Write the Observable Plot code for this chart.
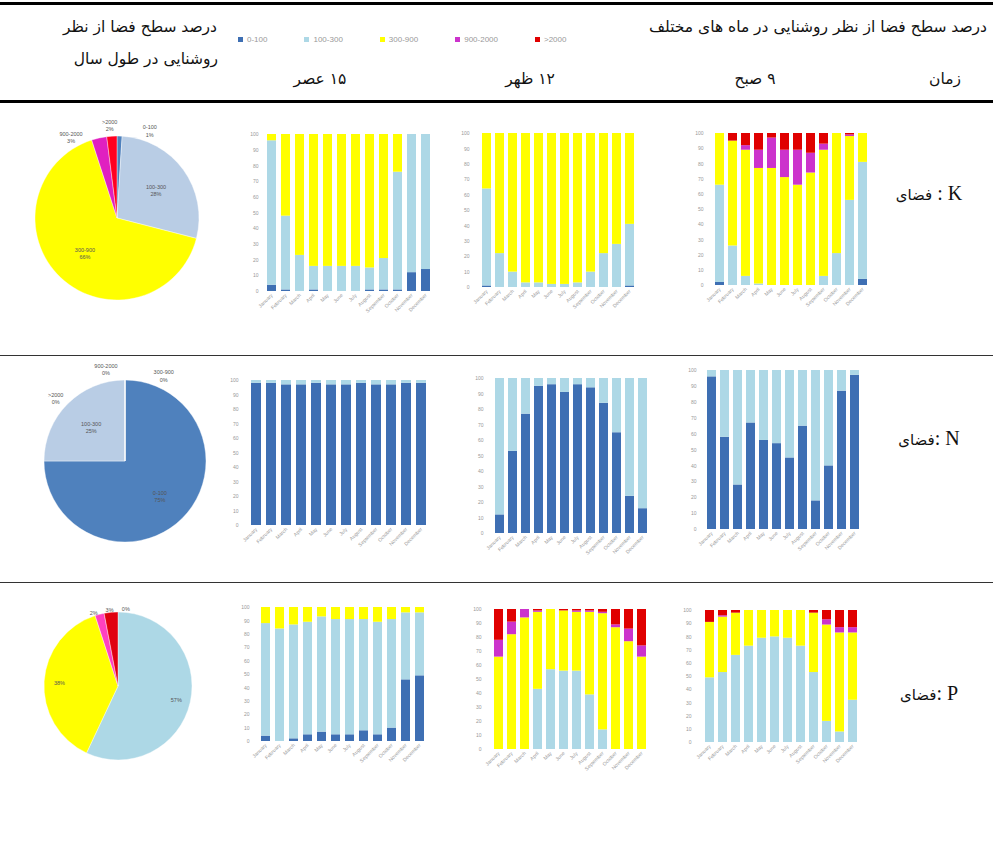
<!DOCTYPE html>
<html>
<head>
<meta charset="utf-8">
<script src="https://cdn.jsdelivr.net/npm/d3@7"></script>
<script src="https://cdn.jsdelivr.net/npm/@observablehq/plot@0.6"></script>
<style>
  body { margin: 0; background: #fff; }
  #page { position: relative; width: 993px; height: 862px; background: #fff; overflow: hidden; font-family: "DejaVu Sans", sans-serif; }
  .abs { position: absolute; }
  .fa { font-family: "DejaVu Sans", sans-serif; font-size: 15.5px; color: #111; white-space: nowrap; }
  .hl { position: absolute; left: 0; width: 993px; background: #000; }
  .rowlab { font-family: "Liberation Serif", "DejaVu Sans", serif; font-size: 20px; color: #111; white-space: nowrap; }
  .rowlab .p { font-family: "DejaVu Sans", sans-serif; font-size: 15px; }
  .lg-swatches { font-size: 8px !important; color: #999 !important; font-family: "Liberation Sans", sans-serif !important; }
  .lg-swatch { margin-right: 37px !important; }
</style>
</head>
<body>
<div id="page">
  <div class="hl" style="top:2px;height:3px"></div>
  <div class="hl" style="top:100px;height:3px"></div>
  <div class="hl" style="top:355px;height:1px;background:#333"></div>
  <div class="hl" style="top:582px;height:1px;background:#333"></div>

  <div class="abs fa" dir="rtl" style="right:6px;top:18px">درصد سطح فضا از نظر روشنایی در ماه های مختلف</div>
  <div class="abs fa" dir="rtl" style="left:30px;width:187px;text-align:right;top:18px">درصد سطح فضا از نظر</div>
  <div class="abs fa" dir="rtl" style="left:30px;width:188px;text-align:right;top:50px">روشنایی در طول سال</div>
  <div class="abs fa" dir="rtl" style="left:905px;width:80px;text-align:center;top:70px">زمان</div>
  <div class="abs fa" dir="rtl" style="left:705px;width:100px;text-align:center;top:70px">۹ صبح</div>
  <div class="abs fa" dir="rtl" style="left:480px;width:100px;text-align:center;top:70px">۱۲ ظهر</div>
  <div class="abs fa" dir="rtl" style="left:270px;width:100px;text-align:center;top:70px">۱۵ عصر</div>

  <div class="abs rowlab" dir="ltr" style="left:879px;width:100px;text-align:center;top:182px"><span class="p">فضای</span> : K</div>
  <div class="abs rowlab" dir="ltr" style="left:879px;width:100px;text-align:center;top:427px"><span class="p">فضای</span>: N</div>
  <div class="abs rowlab" dir="ltr" style="left:879px;width:100px;text-align:center;top:682px"><span class="p">فضای</span>: P</div>

  <div id="legend" class="abs" style="left:238px;top:23px"></div>
</div>
<script>
const months = ["January","February","March","April","May","June","July","August","September","October","November","December"];
const bands = ["0-100","100-300","300-900","900-2000",">2000"];
const barColors = ["#3e6fb3","#add8e6","#ffff00","#cc33cc","#e00000"];

// Space K
const K9_d = [2,0,0,0,0,0,0,0,0,0,0,4];
const K9_l = [64,26,6,1,0,0,0,0,6,21,56,77];
const K9_y = [34,69,83,76,77,71,66,74,83,79,42,19];
const K9_m = [0,0,3,12,20,18,23,13,4,0,1,0];
const K9_r = [0,5,8,11,3,11,11,13,7,0,1,0];

const K12_d = [1,0,0,0,0,0,0,0,0,0,0,1];
const K12_l = [63,22,10,3,3,2,2,3,10,22,28,40];
const K12_y = [36,78,90,97,97,98,98,97,90,78,72,59];

const K15_d = [4,1,0,1,0,0,0,1,1,1,12,14];
const K15_l = [92,47,23,15,16,16,16,14,20,75,88,86];
const K15_y = [4,52,77,84,84,84,84,85,79,24,0,0];

// Space N
const N9_d = [96,58,28,67,56,54,45,65,18,40,87,97];
const N9_l = [4,42,72,33,44,46,55,35,82,60,13,3];

const N12_d = [12,53,77,95,96,91,96,94,84,65,24,16];
const N12_l = [88,47,23,5,4,9,4,6,16,35,76,84];

const N15_d = [98,98,97,97,98,97,97,98,97,97,98,98];
const N15_l = [2,2,3,3,2,3,3,2,3,3,2,2];

// Space P
const P9_l = [49,53,66,73,79,80,79,73,53,16,8,32];
const P9_y = [42,42,32,27,21,20,21,27,45,73,75,51];
const P9_m = [0,1,0,0,0,0,0,0,0,4,4,4];
const P9_r = [9,4,2,0,0,0,0,0,2,7,13,13];

const P12_l = [0,0,0,43,57,56,56,39,14,0,0,0];
const P12_y = [66,82,94,55,43,43,42,59,83,87,77,66];
const P12_m = [12,9,6,1,0,0,1,1,1,2,9,8];
const P12_r = [22,9,0,1,0,1,1,1,2,11,14,26];

const P15_d = [4,0,2,5,7,5,5,8,5,10,46,49];
const P15_l = [84,84,85,84,86,86,86,83,84,81,50,47];
const P15_y = [12,16,13,11,7,9,9,9,11,9,4,4];

// Yearly pies (share of area per lux band)
const K_pie = [1,28,66,3,2];
const N_pie = [75,25,0,0,0];
const P_pie = [0,57,38,2,3];
const K_pieColors = ["#4f81bd","#b9cde5","#ffff00","#e020c0","#ff0020"];
const N_pieColors = ["#4f81bd","#b9cde5","#ffff00","#e020c0","#ff0020"];
const P_pieColors = ["#4f81bd","#add8e6","#ffff00","#ff40c0","#e00010"];

const page = document.getElementById("page");

function place(node, left, top) {
  node.style.position = "absolute";
  node.style.left = left + "px";
  node.style.top = top + "px";
  page.appendChild(node);
}

function barChart(series, L) {
  const data = [];
  series.forEach((vals, si) => {
    if (!vals) return;
    vals.forEach((v, i) => data.push({month: months[i], band: bands[si], v}));
  });
  const svg = Plot.plot({
    width: L.w, height: L.h,
    marginLeft: L.ml, marginRight: L.mr, marginTop: L.mt, marginBottom: L.mb,
    x: {domain: months, padding: 0.33, tickRotate: -45, tickSize: 0, tickPadding: 3, label: null},
    y: {domain: [0, 100], ticks: 10, tickSize: 0, tickPadding: 4, label: null},
    color: {domain: bands, range: barColors},
    style: {fontSize: "5px", color: "#999", fontFamily: "Liberation Sans, sans-serif", background: "transparent", overflow: "visible"},
    marks: [
      Plot.barY(data, {x: "month", y: "v", fill: "band"})
    ]
  });
  place(svg, L.left, L.top);
}

function pieChart(vals, colors, withNames, L) {
  const total = d3.sum(vals);
  const arcs = d3.pie().sort(null).value(d => d)(vals);
  const ext = (L.S / 2) / L.r;
  const items = arcs.map((a, i) => {
    let deg = ((a.startAngle + a.endAngle) / 2) * 180 / Math.PI;
    if (deg > 180) deg -= 360;
    return {i, deg, frac: vals[i] / total};
  });
  const small = items.filter(d => d.frac < 0.05).sort((a, b) => (a.deg - b.deg) || (b.i - a.i));
  const mean = d3.mean(small, d => d.deg) + (L.shift || 0);
  small.forEach((d, k) => { d.pos = mean + (k - (small.length - 1) / 2) * L.spread; d.rad = L.outR; });
  items.filter(d => d.frac >= 0.05).forEach(d => { d.pos = d.deg; d.rad = L.inR; });
  const labels = items.map(d => ({
    x: d.rad * Math.sin(d.pos * Math.PI / 180),
    y: d.rad * Math.cos(d.pos * Math.PI / 180),
    text: (withNames ? bands[d.i] + "\n" : "") + Math.round(d.frac * 100) + "%"
  }));
  const arcMark = (index, scales) => {
    const g = d3.create("svg:g");
    const cx = scales.x(0), cy = scales.y(0), rp = scales.x(1) - scales.x(0);
    const gen = d3.arc().innerRadius(0).outerRadius(rp);
    g.selectAll("path").data(arcs).join("path")
      .attr("transform", `translate(${cx},${cy})`)
      .attr("d", gen)
      .attr("fill", (d, i) => colors[i])
      .attr("stroke", "#fff").attr("stroke-width", 0.4);
    return g.node();
  };
  const svg = Plot.plot({
    width: L.S, height: L.S, margin: 0,
    x: {domain: [-ext, ext], axis: null},
    y: {domain: [-ext, ext], axis: null},
    style: {background: "transparent", overflow: "visible"},
    marks: [
      arcMark,
      Plot.text(labels, {x: "x", y: "y", text: "text", fontSize: 5.5, fill: "#555", lineHeight: 1.3, fontFamily: "Liberation Sans, sans-serif"})
    ]
  });
  place(svg, L.left, L.top);
}

// Row K
barChart([K9_d, K9_l, K9_y, K9_m, K9_r], {left: 680, top: 125, w: 200, h: 200, ml: 27, mr: 5, mt: 8, mb: 40});
barChart([K12_d, K12_l, K12_y], {left: 450, top: 125, w: 200, h: 200, ml: 23, mr: 7, mt: 8, mb: 38});
barChart([K15_d, K15_l, K15_y], {left: 240, top: 125, w: 200, h: 200, ml: 22, mr: 5, mt: 9, mb: 34});
// Row N
barChart([N9_d, N9_l], {left: 680, top: 362, w: 200, h: 200, ml: 20, mr: 15, mt: 8, mb: 33});
barChart([N12_d, N12_l], {left: 460, top: 370, w: 200, h: 200, ml: 27, mr: 5, mt: 8, mb: 37});
barChart([N15_d, N15_l], {left: 220, top: 372, w: 220, h: 200, ml: 22, mr: 5, mt: 8, mb: 47});
// Row P
barChart([null, P9_l, P9_y, P9_m, P9_r], {left: 675, top: 600, w: 200, h: 200, ml: 20, mr: 8, mt: 10, mb: 58});
barChart([null, P12_l, P12_y, P12_m, P12_r], {left: 460, top: 600, w: 200, h: 200, ml: 25, mr: 5, mt: 9, mb: 51});
barChart([P15_d, P15_l, P15_y], {left: 230, top: 598, w: 210, h: 200, ml: 23, mr: 7, mt: 9, mb: 57});

// Pies
pieChart(K_pie, K_pieColors, true, {left: 7, top: 108, S: 220, r: 82, inR: 0.58, outR: 1.14, spread: 25});
pieChart(N_pie, N_pieColors, true, {left: 10, top: 346, S: 230, r: 81, inR: 0.6, outR: 1.16, spread: 36, shift: -12});
pieChart(P_pie, P_pieColors, false, {left: 8, top: 576, S: 220, r: 74, inR: 0.8, outR: 1.05, spread: 12});

// Legend
const lg = Plot.legend({color: {type: "ordinal", domain: bands, range: barColors}, swatchSize: 5, className: "lg"});
document.getElementById("legend").appendChild(lg);
</script>
</body>
</html>
